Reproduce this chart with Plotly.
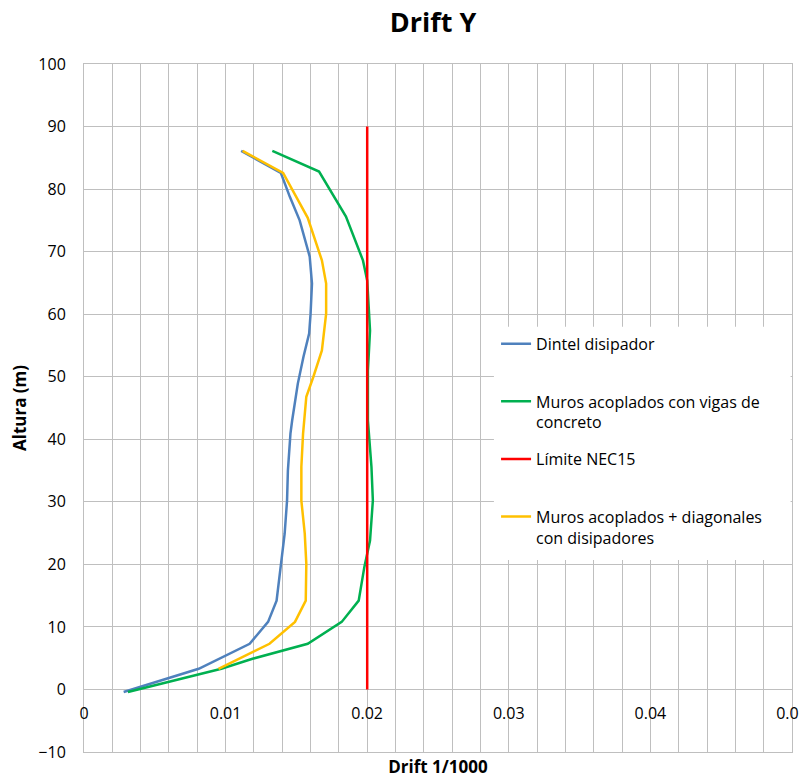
import plotly.graph_objects as go

# Data (x = drift, y = height in m)
blue_y = [-0.4, 3.3, 7.3, 10.8, 14.2, 20.1, 24.9, 30.2, 35.0, 40.9, 43.0, 48.9, 53.2, 56.9, 60.0, 64.9, 69.2, 75.0, 78.8, 82.6, 86.1]
blue_x = [0.0028, 0.0081, 0.0117, 0.0130, 0.0136, 0.0139, 0.01417, 0.01434, 0.0144, 0.01458, 0.0147, 0.0151, 0.0155, 0.0159, 0.0160, 0.0161, 0.01594, 0.01523, 0.01453, 0.0139, 0.0111]

green_y = [-0.4, 3.3, 4.9, 7.3, 10.8, 14.2, 19.6, 23.8, 30.2, 35.6, 43.0, 51.0, 57.4, 65.4, 68.6, 75.6, 82.8, 86.1]
green_x = [0.0031, 0.0097, 0.0119, 0.0158, 0.0182, 0.0194, 0.0198, 0.0202, 0.0204, 0.0203, 0.02005, 0.02005, 0.0202, 0.0200, 0.0197, 0.0185, 0.0166, 0.0133]

yellow_y = [3.3, 7.3, 10.8, 14.2, 20.1, 24.9, 30.2, 35.6, 40.9, 46.8, 50.0, 54.2, 60.1, 64.9, 68.6, 75.4, 82.6, 86.1]
yellow_x = [0.0095, 0.0131, 0.0149, 0.01566, 0.0157, 0.01559, 0.01535, 0.01535, 0.01547, 0.0157, 0.0162, 0.0168, 0.0171, 0.0171, 0.0168, 0.0158, 0.01406, 0.0112]

limit_x = [0.02, 0.02]
limit_y = [0, 90]

names = [
    "Dintel disipador<br> ",
    "Muros acoplados con vigas de<br>concreto",
    "Límite NEC15<br> ",
    "Muros acoplados + diagonales<br>con disipadores",
]

x_ticks = [0, 0.01, 0.02, 0.03, 0.04, 0.05]
x_ticktext = ["0", "0.01", "0.02", "0.03", "0.04", "0.05"]
y_ticks = list(range(-10, 101, 10))

FONT = "Open Sans"
GRID = "#bfbfbf"

fig = go.Figure()
fig.add_trace(go.Scatter(x=blue_x, y=blue_y, mode="lines", name=names[0], legendgroup="a",
                         line=dict(color="#4F81BD", width=2.5)))
fig.add_trace(go.Scatter(x=green_x, y=green_y, mode="lines", name=names[1], legendgroup="b",
                         line=dict(color="#00B050", width=2.5)))
fig.add_trace(go.Scatter(x=limit_x, y=limit_y, mode="lines", name=names[2], legendgroup="c",
                         line=dict(color="#FF0000", width=2.5)))
fig.add_trace(go.Scatter(x=yellow_x, y=yellow_y, mode="lines", name=names[3], legendgroup="d",
                         line=dict(color="#FFC000", width=2.5)))
# invisible helper trace for the tick-label axis placed at y = 0
fig.add_trace(go.Scatter(x=[0, 0.05], y=[0, 0], mode="lines", xaxis="x2", showlegend=False,
                         hoverinfo="skip", line=dict(color="rgba(0,0,0,0)", width=0)))

# white legend panel (extends the legend background to the right border like the original)
fig.add_shape(type="rect", xref="paper", yref="paper", x0=0.579, x1=0.998, y0=0.279, y1=0.618,
              fillcolor="white", line=dict(width=0), layer="above")

# the page body adds an 8px offset, so the figure is 8px smaller than the window
fig.update_layout(
    width=799, height=771,
    margin=dict(l=76, r=15, t=56, b=27),
    paper_bgcolor="white", plot_bgcolor="white",
    font=dict(family=FONT, size=16, color="black"),
    title=dict(text="<b>Drift Y</b>", x=0.532, xanchor="center", y=0.981, yanchor="middle",
               font=dict(family=FONT, size=27, color="black")),
    xaxis=dict(range=[0, 0.05], dtick=0.01, tick0=0, showgrid=True, gridcolor=GRID, gridwidth=1,
               minor=dict(dtick=0.002, tick0=0, showgrid=True, gridcolor=GRID, gridwidth=1),
               showticklabels=False, showline=True, linecolor=GRID, linewidth=1, mirror=True,
               zeroline=False, automargin=False,
               title=dict(text="<b>Drift 1/1000</b>", font=dict(size=17), standoff=9)),
    xaxis2=dict(range=[0, 0.05], overlaying="x", anchor="free", position=10/110,
                tickvals=x_ticks, ticktext=x_ticktext, showgrid=False, showline=False,
                zeroline=False, ticks="", ticklabelstandoff=13, side="bottom",
                ticklabeloverflow="allow",
                automargin=False, tickfont=dict(size=16)),
    yaxis=dict(range=[-10, 100], tickvals=y_ticks, showgrid=True, gridcolor=GRID, gridwidth=1,
               showline=True, linecolor=GRID, linewidth=1, mirror=True, zeroline=False,
               ticks="", ticklabelstandoff=14, tickfont=dict(size=16), automargin=False,
               title=dict(text="<b>Altura (m)</b>", font=dict(size=17), standoff=8)),
    legend=dict(x=0.582, y=0.618, xanchor="left", yanchor="top", bgcolor="white",
                borderwidth=0, tracegroupgap=13, valign="top", traceorder="grouped",
                font=dict(size=16)),
    showlegend=True,
)

fig.write_html("out.html")
